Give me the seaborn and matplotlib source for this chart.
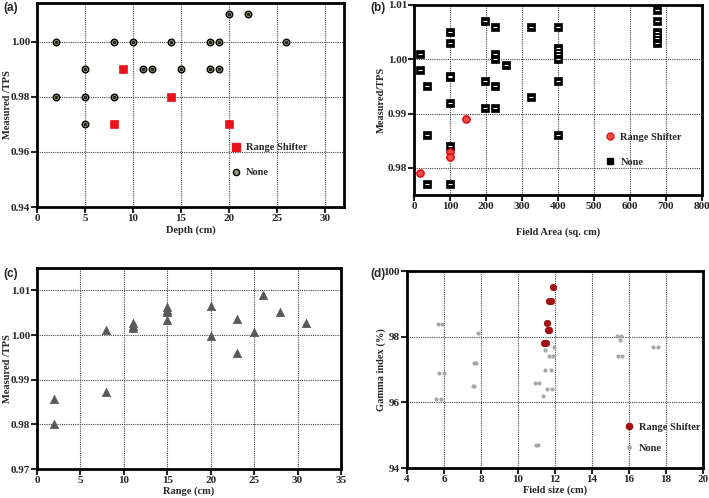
import numpy as np
import pandas as pd
import matplotlib
matplotlib.use("Agg")
import matplotlib.pyplot as plt
import seaborn as sns
from matplotlib.lines import Line2D

# Data

# (a) Measured/TPS vs depth
a_none_x = [2, 8, 10, 14, 18, 19, 26, 20, 22, 5, 11, 12, 15, 18, 19, 2, 5, 8, 5]
a_none_y = [1.00, 1.00, 1.00, 1.00, 1.00, 1.00, 1.00, 1.01, 1.01, 0.99, 0.99, 0.99,
            0.99, 0.99, 0.99, 0.98, 0.98, 0.98, 0.97]
a_rs_x = [9, 14, 8, 20]
a_rs_y = [0.99, 0.98, 0.97, 0.97]

# (b) Measured/TPS vs field area
b_none_x = [16, 16, 36, 36, 36,
            100, 100, 100, 100, 100, 100, 100,
            196, 196, 196,
            225, 225, 225, 225, 225,
            256, 324, 324,
            400, 400, 400, 400, 400, 400, 400,
            676, 676, 676, 676, 676, 676]
b_none_y = [1.001, 0.998, 0.995, 0.986, 0.977,
            1.005, 1.003, 0.997, 0.9968, 0.992, 0.984, 0.977,
            1.007, 0.996, 0.991,
            1.006, 1.001, 1.000, 0.995, 0.991,
            0.999, 1.006, 0.993,
            1.006, 1.002, 1.0015, 1.001, 1.000, 0.996, 0.986,
            1.009, 1.007, 1.005, 1.0045, 1.004, 1.003]
b_rs_x = [16, 100, 100, 144]
b_rs_y = [0.979, 0.983, 0.982, 0.989]

# (c) Measured/TPS vs range
c_x = [2, 2, 8, 8, 11, 11, 11, 15, 15, 15, 15, 20, 20, 23, 23, 25, 26, 28, 31]
c_y = [0.9856, 0.9800, 1.0011, 0.9873, 1.0027, 1.0021, 1.0015, 1.0062, 1.0056,
       1.0051, 1.0034, 1.0064, 0.9997, 1.0036, 0.9960, 1.0006, 1.0090, 1.0051, 1.0027]

# (d) Gamma index vs field size
d_none_x = [5.69, 5.89, 7.85, 5.75, 6.02, 7.65, 7.75, 7.55, 7.65, 5.57, 5.86,
            11.46, 11.95, 11.66, 11.88, 11.46, 11.78, 10.92, 11.15, 11.58, 11.85,
            11.33, 10.96, 11.10,
            15.33, 15.55, 15.51, 15.42, 15.60, 17.28, 17.55]
d_none_y = [98.39, 98.39, 98.10, 96.90, 96.90, 97.20, 97.20, 96.50, 96.50, 96.10, 96.10,
            97.60, 97.70, 97.40, 97.40, 97.00, 97.00, 96.60, 96.60, 96.40, 96.40,
            96.20, 94.70, 94.70,
            98.02, 98.02, 97.90, 97.40, 97.40, 97.70, 97.70]
d_rs_x = [11.91, 11.70, 11.80, 11.55, 11.60, 11.70, 11.40, 11.50]
d_rs_y = [99.50, 99.10, 99.10, 98.41, 98.20, 98.20, 97.81, 97.81]

sns.set_style("white")
plt.rcParams['font.family'] = ['Liberation Serif', 'DejaVu Serif']
plt.rcParams['font.weight'] = 'bold'
plt.rcParams['axes.labelweight'] = 'bold'

fig = plt.figure(figsize=(7.09, 4.98), dpi=100)
ax_a = fig.add_axes([0.0522, 0.5843, 0.4330, 0.4097])
ax_b = fig.add_axes([0.584, 0.6084, 0.406, 0.3816])
ax_c = fig.add_axes([0.0522, 0.0582, 0.4288, 0.4036])
ax_d = fig.add_axes([0.574, 0.0602, 0.4175, 0.3956])


def style_axes(ax, xticks, yticks, xlim, ylim, yfmt):
    ax.set_xlim(*xlim)
    ax.set_ylim(*ylim)
    ax.set_xticks(xticks)
    ax.set_yticks(yticks)
    ax.set_yticklabels([yfmt.format(v) for v in yticks])
    ax.grid(True, linestyle=(0, (1, 1)), color='#444444', linewidth=0.8)
    ax.set_axisbelow(True)
    for s in ax.spines.values():
        s.set_visible(True)
        s.set_linewidth(2.0)
        s.set_color('black')
    ax.tick_params(axis='both', direction='out', length=4, width=1.5,
                   labelsize=8, pad=1, bottom=True, left=True)
    for lab in ax.get_xticklabels() + ax.get_yticklabels():
        lab.set_fontweight('bold')


LFS = 7.5

# (a)
sns.scatterplot(x=a_none_x, y=a_none_y, ax=ax_a, marker='o', s=22,
                color='#9a9878', edgecolor='black', linewidth=1.0, zorder=3)
ax_a.scatter(a_none_x, a_none_y, s=2, color='#222222', zorder=4)
sns.scatterplot(x=a_rs_x, y=a_rs_y, ax=ax_a, marker='s', s=30,
                color='#e8131b', edgecolor='#e8131b', linewidth=0.5, zorder=3)
style_axes(ax_a, [0, 5, 10, 15, 20, 25, 30], [0.94, 0.96, 0.98, 1.00],
           (0, 32), (0.94, 1.014), '{:.2f}')
ax_a.set_xlabel("Depth (cm)", fontsize=LFS, labelpad=2)
ax_a.set_ylabel("Measured /TPS", fontsize=LFS)
ax_a.yaxis.set_label_coords(-0.081, 0.5)
h_a = [Line2D([], [], marker='s', ls='', color='#e8131b', markersize=6),
       Line2D([], [], marker='o', ls='', markerfacecolor='#9a9878',
              markeredgecolor='black', markersize=4.5)]
ax_a.legend(h_a, ["Range Shifter", "None"], frameon=False, fontsize=LFS,
            loc='lower left', bbox_to_anchor=(0.60, 0.10), labelspacing=1.5,
            handletextpad=0.5, handlelength=1.0)

# (b)
sns.scatterplot(x=b_none_x, y=b_none_y, ax=ax_b, marker='s', s=28,
                color='black', edgecolor='black', linewidth=0.5, zorder=3)
ax_b.scatter(b_none_x, b_none_y, marker='_', s=6, color='white',
             linewidths=0.8, zorder=4)
sns.scatterplot(x=b_rs_x, y=b_rs_y, ax=ax_b, marker='o', s=26,
                color='#f04a4a', edgecolor='#e01010', linewidth=1.2, zorder=5)
style_axes(ax_b, list(range(0, 801, 100)), [0.98, 0.99, 1.00, 1.01],
           (0, 800), (0.975, 1.01), '{:.2f}')
ax_b.set_xlabel("Field Area (sq. cm)", fontsize=LFS, labelpad=12)
ax_b.set_ylabel("Measured/TPS", fontsize=LFS)
ax_b.yaxis.set_label_coords(-0.097, 0.5)
h_b = [Line2D([], [], marker='o', ls='', markerfacecolor='#f04a4a',
              markeredgecolor='#e01010', markersize=5),
       Line2D([], [], marker='s', ls='', color='black', markersize=5)]
ax_b.legend(h_b, ["Range Shifter", "None"], frameon=False, fontsize=LFS,
            loc='lower left', bbox_to_anchor=(0.63, 0.10), labelspacing=1.5,
            handletextpad=0.5, handlelength=1.0)

# (c)
sns.scatterplot(x=c_x, y=c_y, ax=ax_c, marker='^', s=36,
                color='#585858', edgecolor='#585858', linewidth=0.5, zorder=3)
style_axes(ax_c, list(range(0, 36, 5)), [0.97, 0.98, 0.99, 1.00, 1.01],
           (0, 35), (0.97, 1.015), '{:.2f}')
ax_c.set_xlabel("Range (cm)", fontsize=LFS, labelpad=1)
ax_c.set_ylabel("Measured /TPS", fontsize=LFS)
ax_c.yaxis.set_label_coords(-0.082, 0.5)

# (d)
sns.scatterplot(x=d_none_x, y=d_none_y, ax=ax_d, marker='o', s=9,
                color='#a8a8a8', edgecolor='#a8a8a8', linewidth=0, zorder=3)
sns.scatterplot(x=d_rs_x, y=d_rs_y, ax=ax_d, marker='o', s=22,
                color='#a00f12', edgecolor='#a00f12', linewidth=0.5, zorder=4)
style_axes(ax_d, list(range(4, 21, 2)), [94, 96, 98, 100],
           (4, 20), (94, 100), '{:.0f}')
ax_d.set_xlabel("Field size (cm)", fontsize=LFS, labelpad=1)
ax_d.set_ylabel("Gamma index (%)", fontsize=LFS)
ax_d.yaxis.set_label_coords(-0.071, 0.5)
h_d = [Line2D([], [], marker='o', ls='', color='#a00f12', markersize=4.5),
       Line2D([], [], marker='o', ls='', color='#a8a8a8', markersize=2.5)]
ax_d.legend(h_d, ["Range Shifter", "None"], frameon=False, fontsize=LFS,
            loc='lower left', bbox_to_anchor=(0.70, 0.03), labelspacing=1.1,
            handletextpad=0.5, handlelength=1.0)

# Panel labels
for lbl, (px, py) in zip(["(a)", "(b)", "(c)", "(d)"],
                         [(3, 8), (370, 8), (3, 274), (370, 274)]):
    fig.text(px / 709, 1 - py / 498, lbl, fontsize=8.5, fontweight='bold',
             family=['Liberation Sans', 'DejaVu Sans'], va='center', ha='left')

fig.savefig("out.png", dpi=100)
